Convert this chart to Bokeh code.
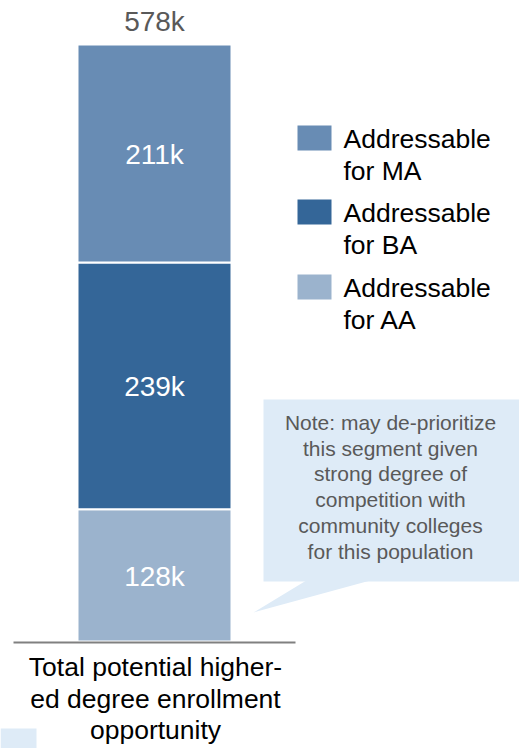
from bokeh.plotting import figure
from bokeh.models import Range1d, ColumnDataSource
from bokeh.core.properties import value
from bokeh.embed import file_html
from bokeh.resources import INLINE

# ---- data ----
segments = ["Addressable for AA", "Addressable for BA", "Addressable for MA"]
values_k = [128, 239, 211]
seg_labels = ["128k", "239k", "211k"]
colors = ["#9BB3CD", "#346698", "#688CB4"]
total_label = "578k"
category_lines = ["Total potential higher-", "ed degree enrollment", "opportunity"]
legend_items = [("Addressable", "for MA"), ("Addressable", "for BA"), ("Addressable", "for AA")]
legend_colors = ["#688CB4", "#346698", "#9BB3CD"]
note_lines = ["Note: may de-prioritize", "this segment given", "strong degree of",
              "competition with", "community colleges", "for this population"]

FONT = value("Liberation Sans")
W, H = 519, 748
BASE_PX = 641.0
PX_PER_K = 597.0 / sum(values_k)
SHIFT = 11  # renderer places alphabetic baselines lower; compensate


def ypx(img_y):
    return (BASE_PX - img_y) / PX_PER_K


def tpx(img_baseline):
    return ypx(img_baseline - SHIFT)


p = figure(width=W, height=H, output_backend="svg", toolbar_location=None,
           x_range=Range1d(0, W), y_range=Range1d(ypx(H), ypx(0)),
           min_border=0, outline_line_color=None)
p.axis.visible = False
p.grid.visible = False
p.background_fill_color = "white"
p.border_fill_color = "white"

# stacked bar
bottoms, tops = [], []
acc = 0
for v in values_k:
    bottoms.append(acc)
    acc += v
    tops.append(acc)
bar_x = 154
src = ColumnDataSource(dict(x=[bar_x] * 3, bottom=bottoms, top=tops, color=colors,
                            label=seg_labels, mid=[(b + t) / 2 for b, t in zip(bottoms, tops)]))
p.vbar(x="x", width=154, bottom="bottom", top="top", fill_color="color",
       line_color="white", line_width=2, source=src)

# baseline
p.line([13, 295], [ypx(642)] * 2, line_color="#808080", line_width=2)

# segment labels
p.text(x="x", y="mid", text="label", source=src, text_color="white",
       text_font=FONT, text_font_size="28px", text_align="center",
       text_baseline="middle", y_offset=1)

# total label
p.text(x=[bar_x], y=[acc], text=[total_label], text_color="#595959",
       text_font=FONT, text_font_size="28px", text_align="center",
       text_baseline="middle", y_offset=-23)

# legend
sw_tops = [125, 199, 274]
base1 = [149, 223, 298]
for (l1, l2), c, t, b in zip(legend_items, legend_colors, sw_tops, base1):
    p.quad(left=297, right=331, top=ypx(t), bottom=ypx(t + 25), fill_color=c, line_color=None)
    p.text(x=[343, 343], y=[tpx(b), tpx(b + 32)], text=[l1, l2], text_color="black",
           text_font=FONT, text_font_size="26.5px", text_align="left",
           text_baseline="alphabetic")

# note callout
NOTE_FILL = "#DEEBF7"
p.quad(left=263, right=520, top=ypx(399), bottom=ypx(581), fill_color=NOTE_FILL, line_color=None)
p.patch([305, 368, 253], [ypx(580.5), ypx(580.5), ypx(612)], fill_color=NOTE_FILL, line_color=None)
p.text(x=[390] * len(note_lines), y=[tpx(433 + i * 25.7) for i in range(len(note_lines))],
       text=note_lines, text_color="#595959", text_font=FONT, text_font_size="21px",
       text_align="center", text_baseline="alphabetic")

# small light patch bottom-left
p.quad(left=0, right=36, top=ypx(728), bottom=ypx(748), fill_color=NOTE_FILL, line_color=None)

# category label
cat_base = [677, 709, 740]
p.text(x=[bar_x + 1] * 3, y=[tpx(b) for b in cat_base], text=category_lines, text_color="black",
       text_font=FONT, text_font_size="26.5px", text_align="center", text_baseline="alphabetic")

open("out.html", "w").write(file_html(p, INLINE))
